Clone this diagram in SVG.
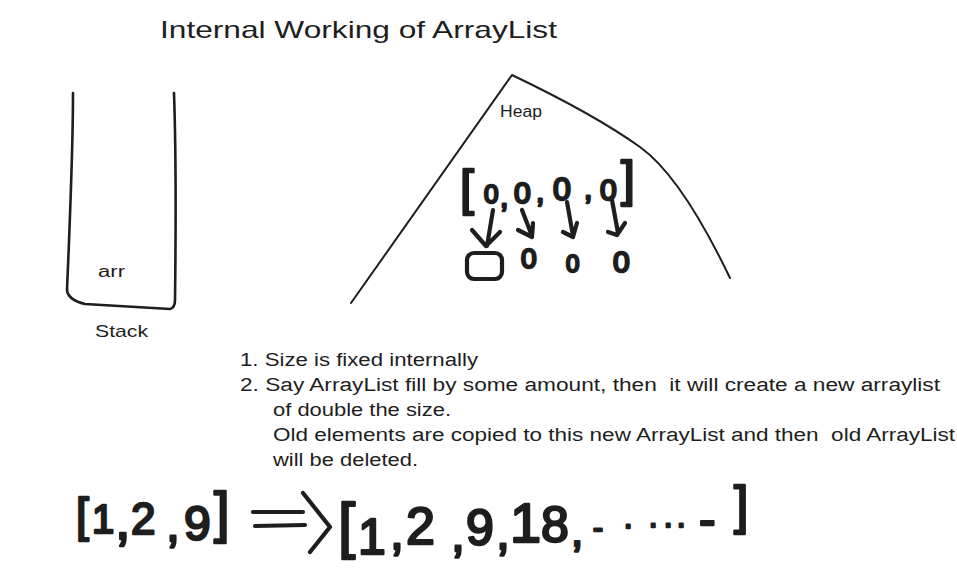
<svg xmlns="http://www.w3.org/2000/svg" width="957" height="571" viewBox="0 0 957 571">
<style>
.bg{fill:#ffffff}
.t{font-family:"Liberation Sans",Arial,sans-serif;fill:#1e1e1e}
.hw{font-family:"Liberation Sans",Arial,sans-serif;font-weight:normal;fill:#1e1e1e;stroke:#1e1e1e;stroke-width:2.4;stroke-linejoin:round;stroke-linecap:round}
.ln{fill:none;stroke:#1e1e1e;stroke-linecap:round;stroke-linejoin:round}
.thin{stroke-width:2}
.mid{stroke-width:2.6}
.fat{stroke-width:4.2}
</style>
<rect class="bg" x="0" y="0" width="957" height="571"/>

<g id="title">
<text class="t" x="160" y="38" font-size="24" textLength="397" lengthAdjust="spacingAndGlyphs">Internal Working of ArrayList</text>
</g>

<g id="stack">
<path class="ln mid" d="M73,93 C73,150 70,220 67,290 Q68,300 85,304 L170,309 Q175,308 175,300 C176,220 176,150 174,93"/>
<text class="t" x="98" y="277" font-size="16" textLength="27" lengthAdjust="spacingAndGlyphs">arr</text>
<text class="t" x="95" y="337" font-size="17" textLength="53" lengthAdjust="spacingAndGlyphs">Stack</text>
</g>

<g id="heap">
<path class="ln thin" d="M351,303 L512,75 C560,98 605,122 640,147 C675,172 706,228 730,278"/>
<text class="t" x="500" y="117" font-size="16" textLength="42" lengthAdjust="spacingAndGlyphs">Heap</text>
</g>

<g id="heap-array">
<text class="hw" font-size="28"><tspan x="460" y="205" font-size="50">[</tspan><tspan x="484" y="203" font-size="26">0</tspan><tspan x="500" y="207" font-size="30">,</tspan><tspan x="514" y="203" font-size="30">0</tspan><tspan x="536" y="202" font-size="30">,</tspan><tspan x="553" y="200" font-size="32">0</tspan><tspan x="584" y="199" font-size="30">,</tspan><tspan x="600" y="200" font-size="30">0</tspan><tspan x="621" y="196" font-size="50">]</tspan></text>
</g>

<g id="heap-values">
<rect class="ln fat" x="467" y="253" width="35" height="26" rx="7"/>
<text class="hw" font-size="28"><tspan x="521" y="268">0</tspan><tspan x="566" y="272" font-size="24">0</tspan><tspan x="613" y="272" font-size="30">0</tspan></text>
</g>

<g id="notes">
<text class="t" x="240" y="366" font-size="18" textLength="238" lengthAdjust="spacingAndGlyphs">1. Size is fixed internally</text>
<text class="t" x="240" y="391" font-size="18" textLength="700" lengthAdjust="spacingAndGlyphs" xml:space="preserve">2. Say ArrayList fill by some amount, then  it will create a new arraylist</text>
<text class="t" x="273" y="416" font-size="18" textLength="178" lengthAdjust="spacingAndGlyphs">of double the size.</text>
<text class="t" x="273" y="441" font-size="18" textLength="682" lengthAdjust="spacingAndGlyphs" xml:space="preserve">Old elements are copied to this new ArrayList and then  old ArrayList</text>
<text class="t" x="273" y="466" font-size="18" textLength="145" lengthAdjust="spacingAndGlyphs">will be deleted.</text>
</g>

<g id="formula-old">
<text class="hw" font-size="40"><tspan x="76" y="531" font-size="46">[</tspan><tspan x="92" y="533">1</tspan><tspan x="115" y="539" font-size="56">,</tspan><tspan x="131" y="534" font-size="44">2</tspan><tspan x="166" y="541" font-size="50">,</tspan><tspan x="184" y="540" font-size="48">9</tspan><tspan x="214" y="531" font-size="56">]</tspan></text>
</g>

<g id="formula-new">
<text class="hw" font-size="50"><tspan x="338" y="546" font-size="62">[</tspan><tspan x="358" y="554">1</tspan><tspan x="390" y="549">,</tspan><tspan x="406" y="544" font-size="52">2</tspan><tspan x="451" y="551">,</tspan><tspan x="466" y="545">9</tspan><tspan x="496" y="549">,</tspan><tspan x="510" y="542" font-size="56">1</tspan><tspan x="541" y="542">8</tspan><tspan x="571" y="546" font-size="44">,</tspan><tspan x="593" y="538" font-size="30">-</tspan><tspan x="624" y="528" font-size="30">.</tspan><tspan x="649" y="527" font-size="30">.</tspan><tspan x="664" y="527" font-size="30">.</tspan><tspan x="677" y="527" font-size="30">.</tspan><tspan x="699" y="536">-</tspan><tspan x="734" y="523" font-size="52">]</tspan></text>
</g>

<g id="connectors">
<path class="ln fat" d="M493,210 L487,246 M472,230 L486,246 L500,232"/>
<path class="ln fat" d="M522,210 L532,236 M518,230 L532,237 L533,223"/>
<path class="ln fat" d="M567,202 L573,236 M563,232 L573,237 L577,223"/>
<path class="ln fat" d="M612,200 L618,233 M608,232 L617,235 L625,223"/>
<path class="ln fat" d="M253,512 L303,512 M255,526 L305,525 M303,493 L330,527 L310,552"/>
</g>
</svg>
